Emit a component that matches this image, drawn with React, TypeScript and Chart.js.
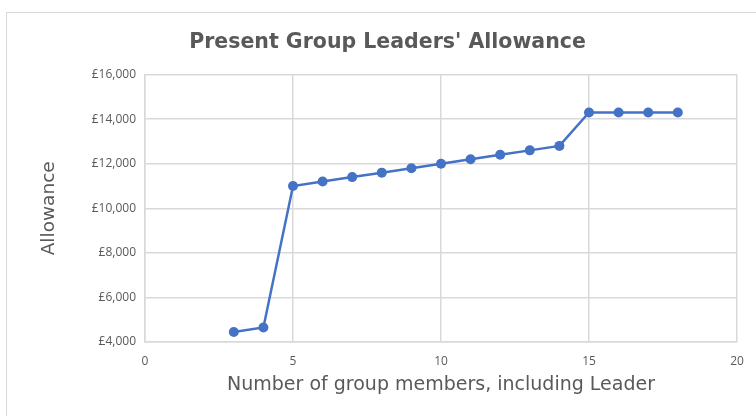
import React, { useEffect, useRef } from "react";
import { Chart, registerables } from "chart.js";

Chart.register(...registerables);

const members = [3, 4, 5, 6, 7, 8, 9, 10, 11, 12, 13, 14, 15, 16, 17, 18];
const allowance = [4450, 4650, 11000, 11200, 11400, 11600, 11800, 12000, 12200, 12400, 12600, 12800, 14300, 14300, 14300, 14300];
const titleText = "Present Group Leaders' Allowance";
const xTitle = "Number of group members, including Leader";
const yTitle = "Allowance";

const FONT = "'Open Sans', 'Liberation Sans', sans-serif";
const TFONT = "'DejaVu Sans', 'Open Sans', sans-serif";
const TEXT = "#595959";
const GRID = "#d9d9d9";

export default function App() {
  const ref = useRef<HTMLCanvasElement | null>(null);
  useEffect(() => {
    document.body.style.margin = "0";
    const ctx = ref.current!.getContext("2d")!;
    const chart = new Chart(ctx, {
      type: "scatter",
      data: {
        datasets: [
          {
            data: members.map((m, i) => ({ x: m, y: allowance[i] })),
            showLine: true,
            borderColor: "#4472C4",
            backgroundColor: "#4472C4",
            borderWidth: 2.5,
            pointRadius: 5,
            pointHoverRadius: 5,
            pointBorderWidth: 0,
          },
        ],
      },
      options: {
        responsive: false,
        animation: false,
        layout: { padding: { left: 38, top: 0, right: 19, bottom: 0 } },
        plugins: {
          legend: { display: false },
          tooltip: { enabled: false },
          title: {
            display: true,
            text: titleText,
            color: TEXT,
            font: { family: TFONT, size: 20.5, weight: "bold" },
            padding: { top: 30, bottom: 20 },
          },
        },
        scales: {
          x: {
            type: "linear",
            min: 0,
            max: 20,
            ticks: { stepSize: 5, color: TEXT, font: { family: FONT, size: 12 }, padding: 12, maxRotation: 0 },
            grid: { color: GRID, lineWidth: 1.5, drawTicks: false },
            border: { color: GRID, width: 1.5 },
            title: {
              display: true,
              text: xTitle,
              color: TEXT,
              font: { family: TFONT, size: 19 },
              padding: { top: 0, bottom: 19.5 },
            },
            afterFit: (s: any) => {
              s.height = 74;
            },
          },
          y: {
            min: 4000,
            max: 16000,
            ticks: {
              stepSize: 2000,
              color: TEXT,
              font: { family: FONT, size: 12 },
              padding: 9,
              callback: (v: any) => "£" + Number(v).toLocaleString("en-GB"),
            },
            grid: { color: GRID, lineWidth: 1.5, drawTicks: false },
            border: { color: GRID, width: 1.5 },
            title: {
              display: true,
              text: yTitle,
              color: TEXT,
              font: { family: TFONT, size: 18.5 },
              padding: { top: 0, bottom: 0 },
            },
            afterFit: (s: any) => {
              s.width = 107;
            },
          },
        },
      },
    });
    return () => chart.destroy();
  }, []);
  return (
    <div style={{ position: "fixed", left: 0, top: 0, width: 756, height: 416, background: "#fff", overflow: "hidden" }}>
      <div
        style={{
          position: "absolute",
          left: 6,
          top: 12,
          width: 800,
          height: 500,
          border: "1px solid #d9d9d9",
        }}
      />
      <canvas ref={ref} width={756} height={416} style={{ position: "absolute", left: 0, top: 0 }} />
    </div>
  );
}
